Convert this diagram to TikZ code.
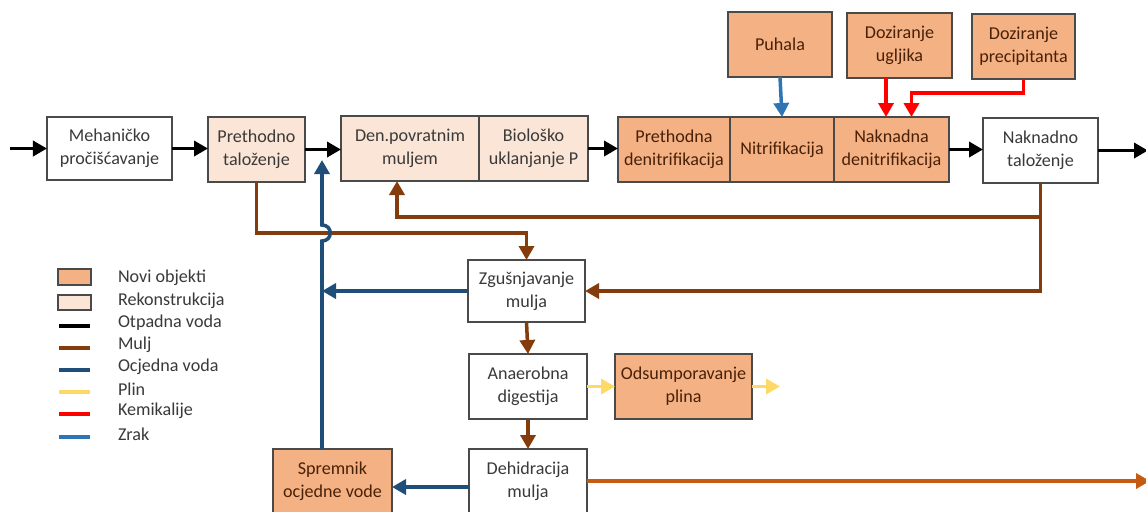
\documentclass[tikz,border=0pt]{standalone}
\usepackage{fontspec}
\setmainfont{Carlito}
\usepackage{xcolor}
\usetikzlibrary{
  arrows.meta,
  positioning
}

\definecolor{noviC}{HTML}{F4B183}
\definecolor{rekonC}{HTML}{FBE5D6}
\definecolor{muljC}{HTML}{843C0C}
\definecolor{ocjednaC}{HTML}{1F4E79}
\definecolor{plinC}{HTML}{FFD966}
\definecolor{kemijaC}{HTML}{FF0000}
\definecolor{zrakC}{HTML}{2E75B6}
\definecolor{izlazC}{HTML}{C55A11}
\definecolor{rubC}{HTML}{4A4A4A}
\definecolor{tekstC}{HTML}{3A3A3A}

\begin{document}
\begin{tikzpicture}
  [
    x=0.2mm, y=-0.2mm,
    every node/.style={font=\fontsize{10.3}{13}\selectfont, align=center, inner sep=0pt, outer sep=0pt},
    jedinica/.style={draw=rubC, line width=0.9pt, minimum height=13mm, text=tekstC},
    novi/.style={jedinica, fill=noviC, text=muljC!55!black},
    rekon/.style={jedinica, fill=rekonC},
    postoj/.style={jedinica, fill=white},
    tok/.style={line width=2pt, -{Triangle[length=2.8mm, width=3mm]}},
    voda/.style={tok, black},
    mulj/.style={tok, muljC},
    ocjedna/.style={tok, ocjednaC},
    plin/.style={tok, plinC},
    kemija/.style={tok, kemijaC},
    zrak/.style={tok, zrakC},
    izlaz/.style={tok, izlazC},
  ]
  \fill[white] (0,0) rectangle (1146,511);
  \useasboundingbox (0,0) rectangle (1146,511);

  % linija vode
  \node [postoj, minimum width=25mm, minimum height=12.6mm] (meh) at (109.5,148.5) {Mehaničko\\pročišćavanje};
  \node [rekon, minimum width=19.4mm] (preth) at (256.5,149.5) {Prethodno\\taloženje};
  \node [rekon, minimum width=27.6mm] (den) at (410,148.5) {Den.povratnim\\muljem};
  \node [rekon, minimum width=21.8mm, right=0pt of den] (bio) {Biološko\\uklanjanje P};
  \node [novi, minimum width=22.4mm] (pdn) at (674,149.5) {Prethodna\\denitrifikacija};
  \node [novi, minimum width=20.8mm, right=0pt of pdn] (nit) {Nitrifikacija};
  \node [novi, minimum width=23mm, right=0pt of nit] (ndn) {Naknadna\\denitrifikacija};
  \node [postoj, minimum width=23mm] (ntal) at (1040.5,150.5) {Naknadno\\taloženje};

  % doziranje
  \node [novi, minimum width=20.8mm] (puh) at (780,44.5) {Puhala};
  \node [novi, minimum width=21mm] (dug) at (899.5,45.5) {Doziranje\\ugljika};
  \node [novi, minimum width=20.6mm] (dpr) at (1023.5,46.5) {Doziranje\\precipitanta};

  % linija mulja
  \node [postoj, minimum width=23.4mm, minimum height=12.4mm] (zgu) at (526.5,291) {Zgušnjavanje\\mulja};
  \node [postoj, minimum width=23.6mm] (ana) at (528,386.5) {Anaerobna\\digestija};
  \node [novi, minimum width=27.4mm] (ods) at (683.5,386.5) {Odsumporavanje\\plina};
  \node [postoj, minimum width=23.6mm, minimum height=12.8mm] (deh) at (528,481) {Dehidracija\\mulja};
  \node [novi, minimum width=23.8mm, minimum height=12.8mm] (spr) at (332.5,481) {Spremnik\\ocjedne vode};

  \coordinate (ulaz) at (10,148.5);
  \coordinate (izl) at (1148,150.5);
  \coordinate (ret) at (322,160);
  \coordinate (pout) at (780,386.5);
  \coordinate (mout) at (1150,481);
  \coordinate (ug) at ([xshift=-1.1mm]ndn.north);
  \coordinate (pr) at ([xshift=4mm]ndn.north);

  % otpadna voda
  \draw [voda] (ulaz) -- (meh.west);
  \draw [voda] (meh.east) -- (meh.east -| preth.west);
  \draw [voda] (preth.east) -- (preth.east -| den.west);
  \draw [voda] (bio.east) -- (bio.east -| pdn.west);
  \draw [voda] (ndn.east) -- (ndn.east -| ntal.west);
  \draw [voda] (ntal.east) -- (izl);

  % zrak i kemikalije
  \draw [zrak] (puh.south) -- (nit.north);
  \draw [kemija] (ug |- dug.south) -- (ug);
  \draw [kemija] (dpr.south) -- ++(0,14) -| (pr);

  % mulj
  \draw [mulj] (preth.south) |- (zgu.north |- 0,233) -- (zgu.north);
  \draw [mulj] (ntal.south) |- (zgu.east);
  \draw [mulj] (ntal.south |- 0,217) -| ([xshift=-2.6mm]den.south);
  \draw [mulj] (zgu.south) -- (ana.north);
  \draw [mulj] (ana.south) -- (deh.north);
  \draw [izlaz] (deh.east) -- (mout);

  % ocjedna voda
  \draw [ocjedna] (spr.north -| ret) -- (ret |- 0,241) .. controls (333,241) and (333,225) .. (ret |- 0,225) -- (ret);
  \draw [ocjedna] (zgu.west) -- (zgu.west -| ret);
  \draw [ocjedna] ([yshift=-1.2mm]deh.west) -- ([yshift=-1.2mm]spr.east);

  % plin
  \draw [plin] (ana.east) -- (ods.west);
  \draw [plin] (ods.east) -- (pout);

  % legenda
  \node [novi, minimum width=6.6mm, minimum height=3.2mm] (lgnovi) at (74.5,277) {};
  \node [rekon, minimum width=6.6mm, minimum height=3mm] (lgrekon) at (74.5,302.5) {};
  \node [anchor=west, text=tekstC] (lgnovitxt) at (118,278) {Novi objekti};
  \node [anchor=west, text=tekstC] (lgrekontxt) at (118,301) {Rekonstrukcija};
  \foreach \stil/\tekst/\y [count=\i] in {voda/Otpadna voda/326, mulj/Mulj/348, ocjedna/Ocjedna voda/370, plin/Plin/392, kemija/Kemikalije/414, zrak/Zrak/437}
  {
    \draw [\stil, -, line width=2.6pt] (59,\y) -- (90,\y);
    \node [anchor=west, text=tekstC] (lg\i) at (118,\y-3) {\tekst};
  }
\end{tikzpicture}
\end{document}
